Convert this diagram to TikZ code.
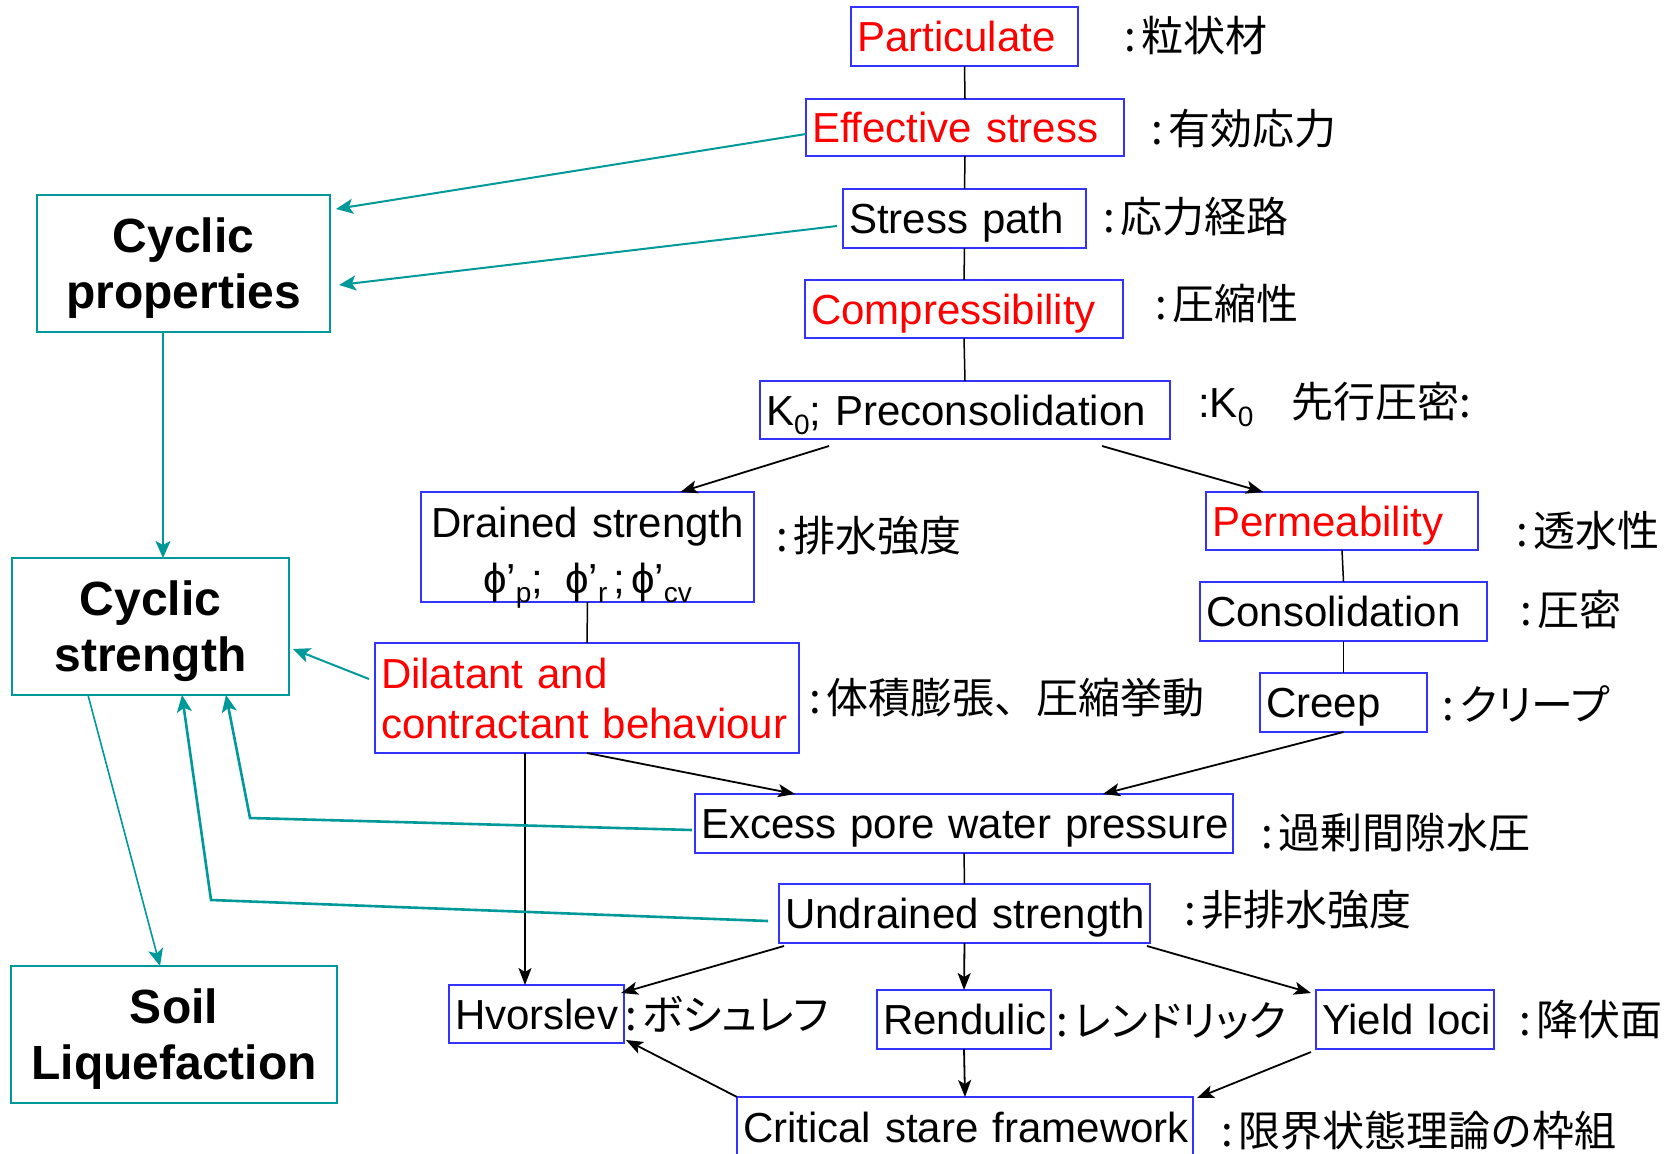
\documentclass[tikz,border=0pt]{standalone}
\usepackage{fontspec}
\setmainfont{Liberation Sans}
\newfontfamily\jpf{Noto Sans CJK JP}
\newfontfamily\jpk[RawFeature=+palt]{Noto Sans CJK JP}
\usetikzlibrary{arrows.meta}
\definecolor{bxblue}{RGB}{51,51,255}
\definecolor{tl}{RGB}{0,153,153}
\definecolor{rd}{RGB}{255,0,0}
\newcommand{\sbs}[1]{\raisebox{-9pt}{\fontsize{28}{28}\selectfont #1}}
\newcommand{\cln}{:\hspace{6pt}}
\begin{document}
\begin{tikzpicture}[x=1pt,y=-1pt,
  bx/.style={draw=bxblue, line width=2pt, inner xsep=6pt, inner ysep=0pt, outer sep=0pt,
    align=left, text height=30pt, text depth=0pt, font=\fontsize{42}{50}\selectfont},
  tb/.style={draw=tl, line width=2.5pt, inner xsep=6pt, inner ysep=0pt, outer sep=0pt,
    align=center, text height=34pt, text depth=56pt, font=\bfseries\fontsize{48}{56}\selectfont},
  jp/.style={anchor=base west, inner sep=0pt, font=\jpf\fontsize{42}{50}\selectfont},
  jpk/.style={anchor=base west, inner sep=0pt, font=\jpk\fontsize{42}{50}\selectfont},
  ln/.style={line width=1.5pt},
  ar/.style={line width=1.8pt, -{Stealth[length=17pt,width=13pt,inset=4pt]}},
  tar/.style={draw=tl, line width=2pt, -{Stealth[length=17pt,width=15pt,inset=4pt]}},
]
\useasboundingbox[fill=white] (0,0) rectangle (1669,1153);

% blue boxes
\node[bx, text=rd, text width=215pt, minimum height=59pt] (part) at (964.5,36.5) {\mbox{Particulate}};
\node[bx, text=rd, text width=306pt, minimum height=57pt] (eff) at (965,127.5) {\mbox{Effective stress}};
\node[bx, text width=231pt, minimum height=59pt] (sp) at (964.5,218.5) {\mbox{Stress path}};
\node[bx, text=rd, text width=306pt, minimum height=58pt] (comp) at (964,309) {\mbox{Compressibility}};
\node[bx, text width=398pt, minimum height=58pt] (k0) at (965,410) {\mbox{K\sbs{0}; Preconsolidation}};
\node[bx, text width=321pt, minimum height=110pt, align=center, text depth=50pt,
  font=\fontsize{42}{56}\selectfont] (drained) at (587.5,547)
  {Drained strength\\ ϕ\textquoteright\sbs{p};\hspace{22pt}ϕ\textquoteright\sbs{r}\hspace{6pt};\hspace{6pt}ϕ\textquoteright\sbs{cv}};
\node[bx, text=rd, text width=260pt, minimum height=58pt] (perm) at (1342,521) {\mbox{Permeability}};
\node[bx, text width=275pt, minimum height=59pt] (cons) at (1343.5,611.5) {\mbox{Consolidation}};
\node[bx, text width=155pt, minimum height=59pt] (creep) at (1343.5,702.5) {\mbox{Creep}};
\node[bx, text=rd, text width=412pt, minimum height=110pt, text depth=50pt,
  font=\fontsize{42}{50}\selectfont] (dil) at (587,698) {Dilatant and\\contractant behaviour};
\node[bx, text width=526pt, minimum height=59pt] (epwp) at (964,823.5) {\mbox{Excess pore water pressure}};
\node[bx, text width=359pt, minimum height=59pt] (und) at (964.5,913.5) {\mbox{Undrained strength}};
\node[bx, text width=163pt, minimum height=58pt] (hv) at (536.5,1014) {\mbox{Hvorslev}};
\node[bx, text width=162pt, minimum height=59pt] (ren) at (964,1019.5) {\mbox{Rendulic}};
\node[bx, text width=166pt, minimum height=59pt] (yl) at (1405,1019.5) {\mbox{Yield loci}};
\node[bx, text width=444pt, minimum height=60pt] (csf) at (965,1127) {\mbox{Critical stare framework}};

% teal boxes
\node[tb, text width=281pt, minimum height=137pt] (cp) at (183.5,263.5) {Cyclic\\properties};
\node[tb, text width=265pt, minimum height=137pt] (cs) at (150.5,626.5) {Cyclic\\strength};
\node[tb, text width=314pt, minimum height=137pt] (sl) at (174,1034.5) {Soil\\Liquefaction};

% Japanese labels
\node[jp] (j1) at (1124,52) {\cln 粒状材};
\node[jp] (j2) at (1151,144) {\cln 有効応力};
\node[jp] (j3) at (1103,232) {\cln 応力経路};
\node[jp] (j4) at (1155,319) {\cln 圧縮性};
\node[jp] (j5) at (1198,417) {{\rmfamily :K\sbs{0}}\hspace{38pt}先行圧密:};
\node[jp] (j6) at (776,551) {\cln 排水強度};
\node[jp] (j7) at (1516,546) {\cln 透水性};
\node[jp] (j8) at (1520,625) {\cln 圧密};
\node[jp] (j9) at (809,713) {\cln 体積膨張、圧縮挙動};
\node[jpk] (j10) at (1442,720) {\cln クリープ};
\node[jp] (j11) at (1261,848) {\cln 過剰間隙水圧};
\node[jp] (j12) at (1184,925) {\cln 非排水強度};
\node[jpk] (j13) at (625,1030) {\cln ボシュレフ};
\node[jpk] (j14) at (1056,1036) {\cln レンドリック};
\node[jp] (j15) at (1519,1035) {\cln 降伏面};
\node[jp] (j16) at (1221,1146) {\cln 限界状態理論の枠組};

% black connectors
\draw[ln] (part.south) -- (eff.north);
\draw[ln] (eff.south) -- (sp.north);
\draw[ln] (sp.south) -- (comp.north);
\draw[ln] (comp.south) -- (k0.north);
\draw[ar] ([xshift=69pt,yshift=-7pt]k0.south west) -- ([xshift=93pt]drained.north);
\draw[ar] ([xshift=342pt,yshift=-7pt]k0.south west) -- ([xshift=-79pt]perm.north);
\draw[ln] (drained.south) -- (dil.north);
\draw[ln] (perm.south) -- (cons.north);
\draw[ln] (cons.south) -- (creep.north);
\draw[ar] (dil.south) -- ([xshift=100pt]epwp.north west);
\draw[ar] (creep.south) -- ([xshift=139pt]epwp.north);
\draw[ln] (epwp.south) -- (und.north);
\draw[ar] ([xshift=150pt]dil.south west) -- ([xshift=-11.5pt]hv.north);
\draw[ar] ([xshift=5pt,yshift=-3pt]und.south west) -- ([xshift=-3pt,yshift=-8pt]hv.north east);
\draw[ar] (und.south) -- (ren.north);
\draw[ar] ([xshift=-3pt,yshift=-3pt]und.south east) -- ([xshift=-5pt,yshift=-3pt]yl.north west);
\draw[ar] (ren.south) -- (csf.north);
\draw[ar] ([xshift=-5pt,yshift=-3pt]yl.south west) -- ([xshift=4pt,yshift=-1pt]csf.north east);
\draw[ar] (csf.north west) -- ([xshift=2pt,yshift=3pt]hv.south east);

% teal connectors
\coordinate (c1) at (250,818);
\coordinate (c2) at (211,900);
\draw[tar] ([yshift=-6.5pt]eff.west) -- ([xshift=6pt,yshift=-14pt]cp.north east);
\draw[tar] ([xshift=-6pt,yshift=-7.5pt]sp.west) -- ([xshift=9pt,yshift=-90pt]cp.north east);
\draw[tar, line width=1.6pt] ([xshift=-20.5pt]cp.south) -- ([xshift=12.5pt]cs.north);
\draw[tar] ([xshift=-6pt,yshift=19pt]dil.west) -- ([xshift=4pt,yshift=-22.5pt]cs.east);
\draw[tar, line width=1.6pt] ([xshift=76pt]cs.south west) -- ([xshift=149pt]sl.north west);
\draw[tar, line width=2.6pt] ([xshift=-3pt,yshift=-6.5pt]epwp.west) -- (c1) -- ([xshift=214pt]cs.south west);
\draw[tar, line width=2.6pt] ([xshift=-11pt,yshift=-7.5pt]und.west) -- (c2) -- ([xshift=170pt]cs.south west);
\end{tikzpicture}
\end{document}
